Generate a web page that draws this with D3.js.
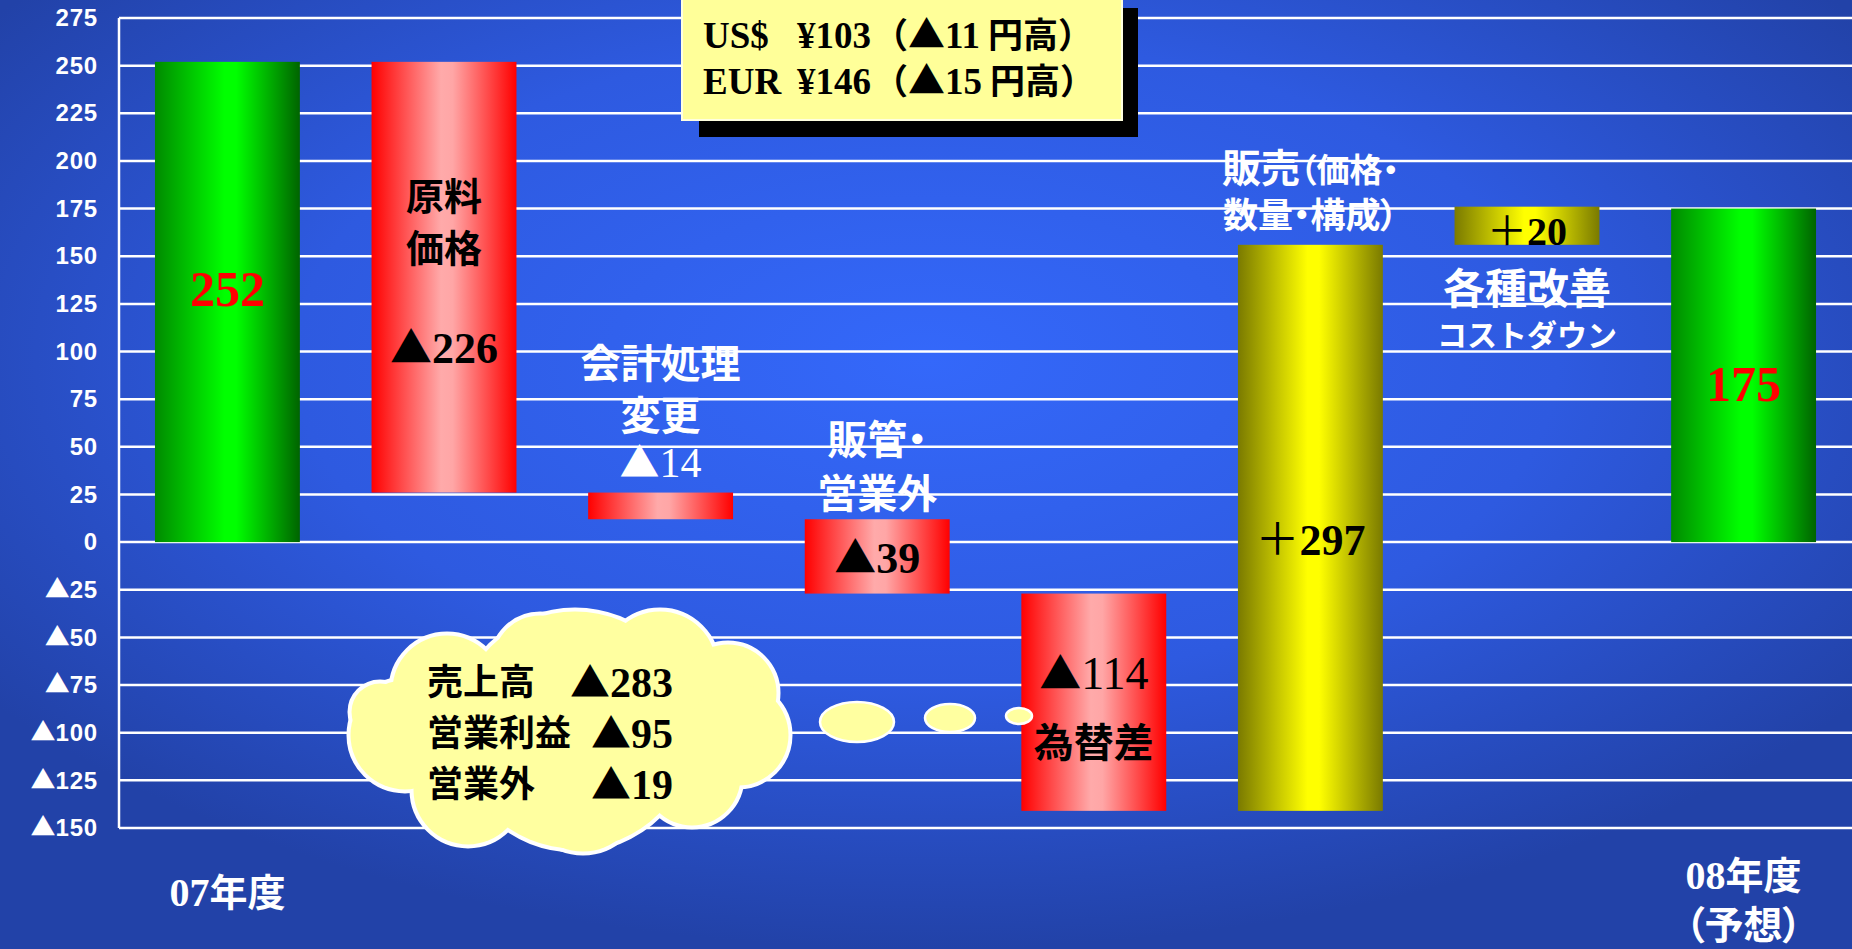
<!DOCTYPE html>
<html><head><meta charset="utf-8">
<script src="https://cdn.jsdelivr.net/npm/d3@7"></script>
<style>html,body{margin:0;padding:0;overflow:hidden;background:#2244aa}
.palt{font-feature-settings:"palt" 1;}</style>
</head><body>
<svg id="c" width="1852" height="949"></svg>
<script>
// ---------------- data ----------------
const categories = ["07年度","原料価格","会計処理変更","販管・営業外","為替差","販売（価格・数量・構成）","各種改善コストダウン","08年度（予想）"];
const values = [252, -226, -14, -39, -114, 297, 20, 175];
const kinds = ["total","down","down","down","down","up","up","total"];
const yTicks = d3.range(-150, 276, 25);
const rateLabels = ["US$","EUR"];
const rateYen = ["¥103","¥146"];
const rateChange = ["11","15"];
const cloudNames = ["売上高","営業利益","営業外"];
const cloudValues = ["283","95","19"];

// ---------------- setup ----------------
const W = 1852, H = 949;
const svg = d3.select("#c");
const defs = svg.append("defs");
const SERIF = "'Liberation Serif','Times New Roman','Noto Sans CJK JP',serif";
const GOTH = "'Noto Sans CJK JP','Noto Sans CJK SC',sans-serif";
const SANS = "'Liberation Sans',Arial,'DejaVu Sans',sans-serif";
const TRI = "▲";

const bg = defs.append("radialGradient").attr("id","bg").attr("cx","0.5").attr("cy","0.38").attr("r","0.62");
bg.append("stop").attr("offset","0").attr("stop-color","#3468fa");
bg.append("stop").attr("offset","0.55").attr("stop-color","#2e5ae0");
bg.append("stop").attr("offset","1").attr("stop-color","#2242a8");
svg.append("rect").attr("width",W).attr("height",H).attr("fill","url(#bg)");

function hgrad(id, stops){
  const g = defs.append("linearGradient").attr("id",id).attr("x1","0").attr("x2","1").attr("y1","0").attr("y2","0");
  stops.forEach(s=>g.append("stop").attr("offset",s[0]).attr("stop-color",s[1]));
}
hgrad("gGreen",[[0,"#008a00"],[0.48,"#00ff00"],[0.56,"#00ff00"],[1,"#006400"]]);
hgrad("gRed",[[0,"#ff0000"],[0.48,"#ffaaaa"],[0.56,"#ffa6a6"],[1,"#ff0000"]]);
hgrad("gYellow",[[0,"#7a7a00"],[0.48,"#ffff00"],[0.56,"#ffff00"],[1,"#7a7a00"]]);
const fillFor = {total:"url(#gGreen)", down:"url(#gRed)", up:"url(#gYellow)"};

const x = d3.scaleBand().domain(categories).range([119, W]).paddingInner(0.331).paddingOuter(0.166);
const y = d3.scaleLinear().domain([-150, 275]).range([828, 18]);

// ---------------- grid / axis ----------------
const grid = svg.append("g");
grid.selectAll("line.g").data(yTicks).join("line")
  .attr("x1", 119).attr("x2", W)
  .attr("y1", d=>y(d)).attr("y2", d=>y(d))
  .attr("stroke","#ffffff").attr("stroke-width",2.5);
grid.append("line").attr("x1",119).attr("x2",119).attr("y1",y(275)).attr("y2",y(-150))
  .attr("stroke","#fff").attr("stroke-width",2.5);

const yAxis = d3.axisLeft(y).tickValues(yTicks).tickSize(0).tickPadding(21)
  .tickFormat(d => d < 0 ? TRI + Math.abs(d) : String(d));
const ya = svg.append("g").attr("transform","translate(119,0)").call(yAxis);
ya.select(".domain").remove();
ya.selectAll("text").attr("fill","#fff").attr("font-family",SANS).attr("font-weight","bold")
  .attr("font-size",24).attr("letter-spacing","0.8px")
  .each(function(d){
    if (d < 0){
      const t = d3.select(this); t.text(null);
      t.append("tspan").attr("font-family",GOTH).attr("font-size",25).attr("letter-spacing","0").text(TRI);
      t.append("tspan").text(Math.abs(d));
    }
  });

// ---------------- bars ----------------
let run = 0;
const bars = values.map((v,i)=>{
  let a,b;
  if (kinds[i]==="total"){ a=0; b=v; run=v; }
  else { a=run; b=run+v; run=b; }
  return {cat:categories[i], lo:Math.min(a,b), hi:Math.max(a,b), kind:kinds[i]};
});
svg.append("g").selectAll("rect").data(bars).join("rect")
  .attr("x", d=>x(d.cat)).attr("width", x.bandwidth())
  .attr("y", d=>y(d.hi)).attr("height", d=>y(d.lo)-y(d.hi))
  .attr("fill", d=>fillFor[d.kind]);

// ---------------- exchange box ----------------
const box = svg.append("g");
box.append("rect").attr("x",699).attr("y",8).attr("width",439).attr("height",129).attr("fill","#000");
box.append("rect").attr("x",682).attr("y",-8).attr("width",440).attr("height",128)
  .attr("fill","#ffff99").attr("stroke","#ffffe0").attr("stroke-width",2);
rateLabels.forEach((lab,i)=>{
  const t = box.append("text").attr("y", 48 + i*46).attr("font-family",SERIF).attr("font-weight","bold")
    .attr("font-size",37).attr("fill","#000");
  t.append("tspan").attr("x",703).text(lab);
  t.append("tspan").attr("x",797).text(rateYen[i]);
  t.append("tspan").attr("dx",2).attr("font-family",GOTH).attr("font-size",35).text("（");
  t.append("tspan").attr("font-family",GOTH).attr("font-size",37).text(TRI);
  t.append("tspan").text(rateChange[i]);
  t.append("tspan").attr("dx",8).attr("font-family",GOTH).attr("font-size",35).text("円高）");
});

// ---------------- cloud ----------------
const cloudCircles = [
  [447,690,56],[540,662,48],[660,668,58],[728,693,50],[738,735,52],
  [692,777,50],[583,795,58],[468,790,56],[405,735,56],[380,712,30],[575,730,120]
];
const cloud = svg.append("g");
cloud.selectAll("circle.o").data(cloudCircles).join("circle")
  .attr("cx",d=>d[0]).attr("cy",d=>d[1]).attr("r",d=>d[2])
  .attr("fill","#ffffa0").attr("stroke","#fff").attr("stroke-width",5);
cloud.selectAll("circle.i").data(cloudCircles).join("circle")
  .attr("cx",d=>d[0]).attr("cy",d=>d[1]).attr("r",d=>d[2]-1.5)
  .attr("fill","#ffffa0");
cloudNames.forEach((n,i)=>{
  const yy = 695 + i*51;
  cloud.append("text").attr("x",427).attr("y",yy).attr("font-family",GOTH).attr("font-weight","bold")
    .attr("font-size",36).attr("fill","#000").text(n);
  const t = cloud.append("text").attr("x",673).attr("y",yy+2).attr("text-anchor","end").attr("font-family",SERIF)
    .attr("font-weight","bold").attr("font-size",42).attr("fill","#000");
  t.append("tspan").attr("font-family",GOTH).attr("font-size",40).text(TRI);
  t.append("tspan").text(cloudValues[i]);
});
// thought bubbles
const bubbles = [[857,722,37,20],[950,718,25,14],[1019,716,13,8]];
svg.append("g").selectAll("ellipse").data(bubbles).join("ellipse")
  .attr("cx",d=>d[0]).attr("cy",d=>d[1]).attr("rx",d=>d[2]).attr("ry",d=>d[3])
  .attr("fill","#ffffa0").attr("stroke","#fff").attr("stroke-width",2.5);

// ---------------- annotations ----------------
// each: category index, baseline value on y scale, proportional flag, parts [text, font, weight, size]
const ann = [
  {i:0, v:124, fill:"#ff0000", parts:[["252",SERIF,"bold",50]]},
  {i:1, v:174, fill:"#000", parts:[["原料",GOTH,"bold",38]]},
  {i:1, v:147, fill:"#000", parts:[["価格",GOTH,"bold",38]]},
  {i:1, v:94, fill:"#000", parts:[[TRI,GOTH,"bold",42],["226",SERIF,"bold",44]]},
  {i:2, v:86, fill:"#fff", parts:[["会計処理",GOTH,"bold",40]]},
  {i:2, v:59, fill:"#fff", parts:[["変更",GOTH,"bold",40]]},
  {i:2, v:34, fill:"#fff", parts:[[TRI,GOTH,"normal",40],["14",SERIF,"normal",42]]},
  {i:3, v:46, fill:"#fff", p:true, parts:[["販管・",GOTH,"bold",40]]},
  {i:3, v:18, fill:"#fff", parts:[["営業外",GOTH,"bold",40]]},
  {i:3, v:-16, fill:"#000", parts:[[TRI,GOTH,"bold",42],["39",SERIF,"bold",44]]},
  {i:4, v:-77, fill:"#000", parts:[[TRI,GOTH,"bold",42],["114",SERIF,"normal",46]]},
  {i:4, v:-113, fill:"#000", parts:[["為替差",GOTH,"bold",40]]},
  {i:5, v:189, fill:"#fff", p:true, parts:[["販売",GOTH,"bold",39],["（価格・",GOTH,"bold",33]]},
  {i:5, v:165, fill:"#fff", p:true, parts:[["数量・構成）",GOTH,"bold",35]]},
  {i:5, v:-7, fill:"#000", parts:[["＋",SERIF,"normal",44],["297",SERIF,"bold",44]]},
  {i:6, v:156, fill:"#000", parts:[["＋",SERIF,"normal",40],["20",SERIF,"bold",40]]},
  {i:6, v:125, fill:"#fff", parts:[["各種改善",GOTH,"bold",42]]},
  {i:6, v:103, fill:"#fff", parts:[["コストダウン",GOTH,"bold",30]]},
  {i:7, v:74, fill:"#ff0000", parts:[["175",SERIF,"bold",50]]},
  // category axis labels
  {i:0, v:-191, fill:"#fff", parts:[["07",SERIF,"bold",40],["年度",GOTH,"bold",38]]},
  {i:7, v:-182, fill:"#fff", parts:[["08",SERIF,"bold",40],["年度",GOTH,"bold",38]]},
  {i:7, v:-208, fill:"#fff", p:true, parts:[["（予想）",GOTH,"bold",39]]}
];
const ag = svg.append("g");
ann.forEach(a=>{
  const t = ag.append("text").attr("x", x(categories[a.i]) + x.bandwidth()/2).attr("y", y(a.v))
    .attr("text-anchor","middle").attr("fill",a.fill).attr("class", a.p ? "palt" : null);
  a.parts.forEach(p=>{
    t.append("tspan").attr("font-family",p[1]).attr("font-weight",p[2]).attr("font-size",p[3]).text(p[0]);
  });
});
</script>
</body></html>
